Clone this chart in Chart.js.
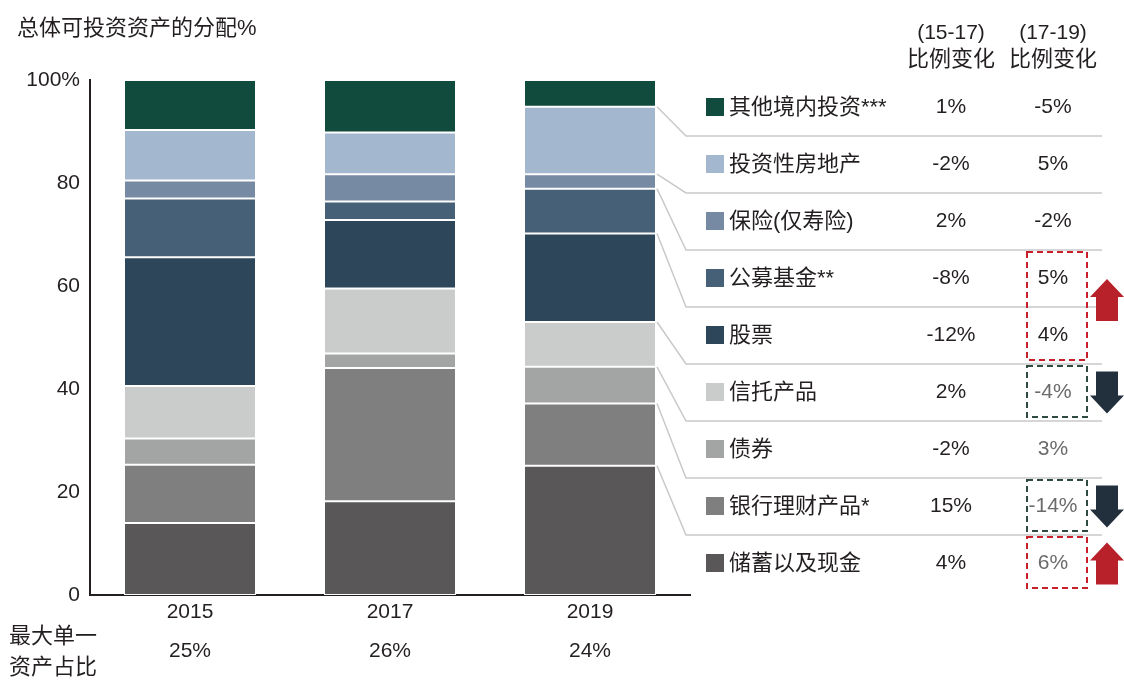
<!DOCTYPE html>
<html>
<head>
<meta charset="utf-8">
<script src="https://cdn.jsdelivr.net/npm/chart.js@4.4.1/dist/chart.umd.min.js"></script>
<style>
  body { margin: 0; background: #fff; }
  #wrap { width: 1124px; height: 682px; }
</style>
</head>
<body>
<div id="wrap"><canvas id="chart" width="1124" height="682"></canvas></div>
<script>
// 数据 (从下到上的堆叠顺序)
const years = ['2015', '2017', '2019'];
const categories = ['储蓄以及现金', '银行理财产品*', '债券', '信托产品', '股票', '公募基金**', '保险(仅寿险)', '投资性房地产', '其他境内投资***'];
const savings = [14.0, 18.2, 25.1];
const bankWmp = [11.3, 25.9, 12.1];
const bonds = [5.1, 2.8, 7.1];
const trust = [10.2, 12.6, 8.7];
const stocks = [25.0, 13.3, 17.2];
const publicFunds = [11.4, 3.6, 8.7];
const insurance = [3.5, 5.3, 2.8];
const realEstate = [9.8, 8.1, 13.1];
const otherDomestic = [9.7, 10.2, 5.2];
const change1517 = ['4%', '15%', '-2%', '2%', '-12%', '-8%', '2%', '-2%', '1%'];
const change1719 = ['6%', '-14%', '3%', '-4%', '4%', '5%', '-2%', '5%', '-5%'];
const maxShare = ['25%', '26%', '24%'];

const series = [savings, bankWmp, bonds, trust, stocks, publicFunds, insurance, realEstate, otherDomestic];
const colors = ['#595758', '#7f7f7f', '#a3a5a4', '#cacccb', '#2d4659', '#466077', '#768ba3', '#a3b8cf', '#104b3d'];

// 高亮框: 类别索引, 颜色, 箭头方向
const highlights = [
    { cats: [5, 4], color: '#c8202a', dir: 'up', dy: -7 },
    { cats: [3], color: '#2f4a40', dir: 'down', dy: 0 },
    { cats: [1], color: '#2f4a40', dir: 'down', dy: 0 },
    { cats: [0], color: '#c8202a', dir: 'up', dy: 0 }
];
const greyCol2 = [0, 1, 2, 3];

const FONT = "'Liberation Sans', 'Noto Sans CJK SC', sans-serif";
const TEXT = '#231f20';
Chart.defaults.font.family = FONT;
Chart.defaults.color = TEXT;

// 每一行的中心 y
function rowY(i) {
    const r = categories.length - 1 - i;
    return 107 + 57 * r;
}

function drawArrow(ctx, cx, cy, dir, color) {
    const w = 34, h = 42, shaft = 22, head = 18;
    const s = dir === 'up' ? 1 : -1;
    const tip = cy - s * h / 2;
    const base = cy + s * h / 2;
    const neck = tip + s * head;
    ctx.fillStyle = color;
    ctx.beginPath();
    ctx.moveTo(cx, tip);
    ctx.lineTo(cx + w / 2, neck);
    ctx.lineTo(cx + shaft / 2, neck);
    ctx.lineTo(cx + shaft / 2, base);
    ctx.lineTo(cx - shaft / 2, base);
    ctx.lineTo(cx - shaft / 2, neck);
    ctx.lineTo(cx - w / 2, neck);
    ctx.closePath();
    ctx.fill();
}

const sidePanel = {
    id: 'sidePanel',
    afterDraw(chart) {
        const ctx = chart.ctx;
        ctx.save();
        ctx.textBaseline = 'middle';
        ctx.fillStyle = TEXT;

        // 标题
        ctx.font = '22px ' + FONT;
        ctx.textAlign = 'left';
        ctx.fillText('总体可投资资产的分配%', 17, 29);

        // 表头
        ctx.textAlign = 'center';
        ctx.font = '21px ' + FONT;
        ctx.fillText('(15-17)', 951, 33);
        ctx.fillText('(17-19)', 1053, 33);
        ctx.font = '22px ' + FONT;
        ctx.fillText('比例变化', 951, 60);
        ctx.fillText('比例变化', 1053, 60);

        // 图例行 + 连接线
        categories.forEach(function(name, i) {
            const cy = rowY(i);
            ctx.fillStyle = colors[i];
            ctx.fillRect(706, cy - 9, 18, 18);
            ctx.fillStyle = TEXT;
            ctx.textAlign = 'left';
            ctx.font = '22px ' + FONT;
            ctx.fillText(name, 729, cy + 1);
            ctx.textAlign = 'center';
            ctx.font = '21px ' + FONT;
            ctx.fillText(change1517[i], 951, cy);
            ctx.fillStyle = greyCol2.includes(i) ? '#6b6b6b' : TEXT;
            ctx.fillText(change1719[i], 1053, cy);

            if (i > 0) {
                const el = chart.getDatasetMeta(i).data[2];
                const right = el.x + el.width / 2 + 1;
                const sepY = cy + 29;
                ctx.strokeStyle = '#c9c9c9';
                ctx.lineWidth = 1.5;
                ctx.beginPath();
                ctx.moveTo(right, el.base);
                ctx.lineTo(686, sepY);
                ctx.lineTo(1102, sepY);
                ctx.stroke();
            }
        });

        // 高亮虚线框和箭头
        highlights.forEach(function(h) {
            const top = rowY(h.cats[0]) - 26;
            const bottom = rowY(h.cats[h.cats.length - 1]) + 25;
            ctx.strokeStyle = h.color;
            ctx.lineWidth = 2;
            ctx.setLineDash([6, 4]);
            ctx.strokeRect(1027, top, 60, bottom - top);
            ctx.setLineDash([]);
            const arrowColor = h.dir === 'up' ? '#b8202a' : '#22303d';
            drawArrow(ctx, 1107, (top + bottom) / 2 + 1 + h.dy, h.dir, arrowColor);
        });

        // 底部: 最大单一资产占比
        ctx.fillStyle = TEXT;
        ctx.font = '22px ' + FONT;
        ctx.textAlign = 'left';
        ctx.fillText('最大单一', 9, 637);
        ctx.fillText('资产占比', 9, 668);
        ctx.textAlign = 'center';
        ctx.font = '21px ' + FONT;
        const meta = chart.getDatasetMeta(0);
        maxShare.forEach(function(v, k) {
            ctx.fillText(v, meta.data[k].x, 651);
        });
        ctx.restore();
    }
};

const ctx = document.getElementById('chart').getContext('2d');
new Chart(ctx, {
    type: 'bar',
    data: {
        labels: years,
        datasets: series.map(function(d, i) {
            return {
                label: categories[i],
                data: d,
                backgroundColor: colors[i],
                borderColor: '#ffffff',
                borderWidth: 1,
                borderSkipped: false,
                categoryPercentage: 1,
                barPercentage: 0.66
            };
        })
    },
    options: {
        responsive: false,
        animation: false,
        layout: { padding: { left: 0, top: 80, right: 434, bottom: 0 } },
        plugins: {
            legend: { display: false },
            tooltip: { enabled: false }
        },
        scales: {
            x: {
                stacked: true,
                grid: { display: false, drawTicks: false },
                border: { display: true, color: TEXT, width: 2 },
                ticks: { font: { size: 21 }, color: TEXT, padding: 5 },
                afterFit: function(s) { s.height = 87; }
            },
            y: {
                stacked: true,
                min: 0,
                max: 100,
                grid: { display: false, drawTicks: false },
                border: { display: true, color: TEXT, width: 2 },
                ticks: {
                    stepSize: 20,
                    font: { size: 21 },
                    color: TEXT,
                    padding: 10,
                    callback: function(v) { return v === 100 ? '100%' : v; }
                },
                afterFit: function(s) { s.width = 90; }
            }
        }
    },
    plugins: [sidePanel]
});
</script>
</body>
</html>
